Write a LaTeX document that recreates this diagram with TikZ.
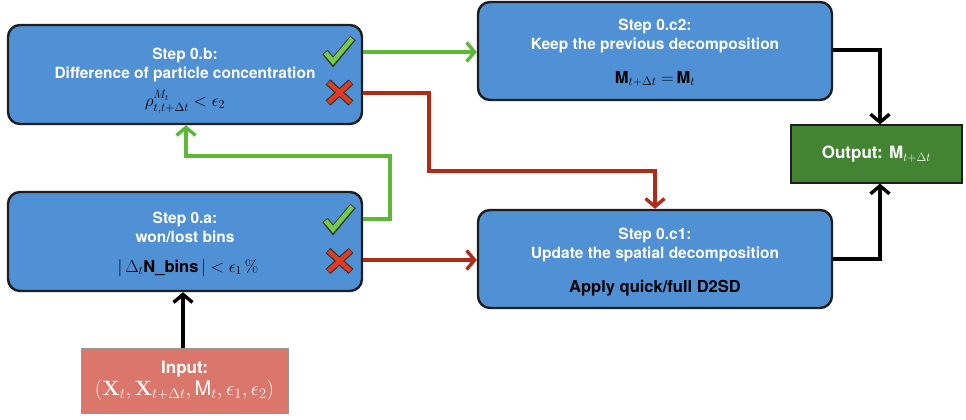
\documentclass[tikz,border=0pt]{standalone}
\usepackage[no-math]{fontspec}
\usepackage{amsmath}
\setmainfont{TeX Gyre Heros}
\usetikzlibrary{arrows.meta}

\definecolor{boxblue}{RGB}{80,144,212}
\definecolor{boxedge}{RGB}{30,30,30}
\definecolor{outgreen}{RGB}{66,132,50}
\definecolor{inred}{RGB}{218,118,106}
\definecolor{ingray}{RGB}{150,150,150}
\definecolor{yesline}{RGB}{92,184,54}
\definecolor{noline}{RGB}{176,42,24}
\definecolor{tickfill}{RGB}{118,204,72}
\definecolor{crossfill}{RGB}{226,58,38}
\definecolor{markedge}{RGB}{45,55,35}

\begin{document}
\begin{tikzpicture}[x=1pt,y=-1pt,
  stepbox/.style={draw=boxedge, line width=2.4pt, fill=boxblue,
    rounded corners=12pt, minimum width=354pt, minimum height=98pt, inner sep=0pt},
  title/.style={text=white, font=\fontsize{15.5}{19}\selectfont\bfseries, align=center},
  formula/.style={text=black, font=\fontsize{16.5}{19}\selectfont},
  flow/.style={line width=3.4pt, line join=miter,
    -{Straight Barb[length=8pt,width=19pt]}},
  yes/.style={flow, draw=yesline},
  no/.style={flow, draw=noline},
  plain/.style={flow, draw=black},
  pics/okmark/.style={code={
    \draw[line width=7pt, markedge, line join=miter] (-13,1)--(-5,11)--(15,-13);
    \draw[line width=4.6pt, tickfill, line join=miter] (-12.4,1.6)--(-5,10.4)--(14.3,-12.4);
  }},
  pics/nomark/.style={code={
    \draw[line width=7pt, markedge] (-11.5,-10.5)--(11.5,10.5) (11.5,-10.5)--(-11.5,10.5);
    \draw[line width=4.6pt, crossfill] (-11,-10)--(11,10) (11,-10)--(-11,10);
  }}
]
\useasboundingbox (0,0) rectangle (966,420);

% step boxes
\node[stepbox, minimum height=99pt] (b) at (185,74.5) {};
\node[stepbox, minimum height=99pt] (a) at (185,241.5) {};
\node[stepbox] (c2) at (655,51) {};
\node[stepbox] (c1) at (655,259) {};

% output and input boxes
\node[draw=boxedge, line width=1.2pt, fill=outgreen, minimum width=171pt,
  minimum height=58pt, inner sep=0pt, text=white,
  font=\fontsize{17}{19}\selectfont\bfseries] (out) at (876.5,154)
  {Output: M$_{t+\Delta t}$};
\node[draw=ingray, line width=1pt, fill=inred, minimum width=207pt,
  minimum height=65pt, inner sep=0pt, text=white, align=center,
  font=\fontsize{17}{24}\selectfont\bfseries] (in) at (184.5,380.5)
  {Input:\\[-2pt]\fontsize{20}{24}\selectfont\mdseries$(\mathbf{X}_t, \mathbf{X}_{t+\Delta t}, \text{M}_t, \epsilon_1, \epsilon_2)$};

% texts inside the step boxes
\node[title] (bt) at (185,65) {Step 0.b:\\Difference of particle concentration};
\node[formula] (bf) at (185,102) {$\rho^{M_t}_{t,t+\Delta t} < \epsilon_2$};
\node[title] (at) at (185,227) {Step 0.a:\\won/lost bins};
\node[formula] (af) at (188,268) {$|\,\Delta_t$\textbf{N\_bins}$\,| < \epsilon_1\,\%$};
\node[title] (c2t) at (655,36) {Step 0.c2:\\Keep the previous decomposition};
\node[formula] (c2f) at (655,79) {\textbf{M}$_{t+\Delta t} = $\,\textbf{M}$_t$};
\node[title] (c1t) at (655,245) {Step 0.c1:\\Update the spatial decomposition};
\node[formula, font=\fontsize{16.5}{19}\selectfont\bfseries] (c1f) at (655,288) {Apply quick/full D2SD};

% decision marks
\pic at (338,51) {okmark};
\pic at (339.5,92.5) {nomark};
\pic at (338,219) {okmark};
\pic at (339.5,261) {nomark};

% connectors
\coordinate (bok) at (b.east |- 0,52);
\coordinate (bno) at (b.east |- 0,93);
\coordinate (aok) at (a.east |- 0,219);
\coordinate (ano) at (a.east |- 0,260);

\draw[yes] (bok) -- (c2.west |- bok);
\draw[no] (bno) -- (429,93) -- (429,171) -- (655,171) -- (c1.north);
\draw[yes] (aok) -- (390,219) -- (390,156) -- (186,156) -- (b.south -| 186,0);
\draw[no] (ano) -- (c1.west |- ano);
\draw[plain] (in.north -| 183,0) -- (a.south -| 183,0);
\draw[plain] (c2.east |- 0,50) -- (880,50) -- (out.north -| 880,0);
\draw[plain] (c1.east |- 0,259) -- (880,259) -- (out.south -| 880,0);
\end{tikzpicture}
\end{document}
